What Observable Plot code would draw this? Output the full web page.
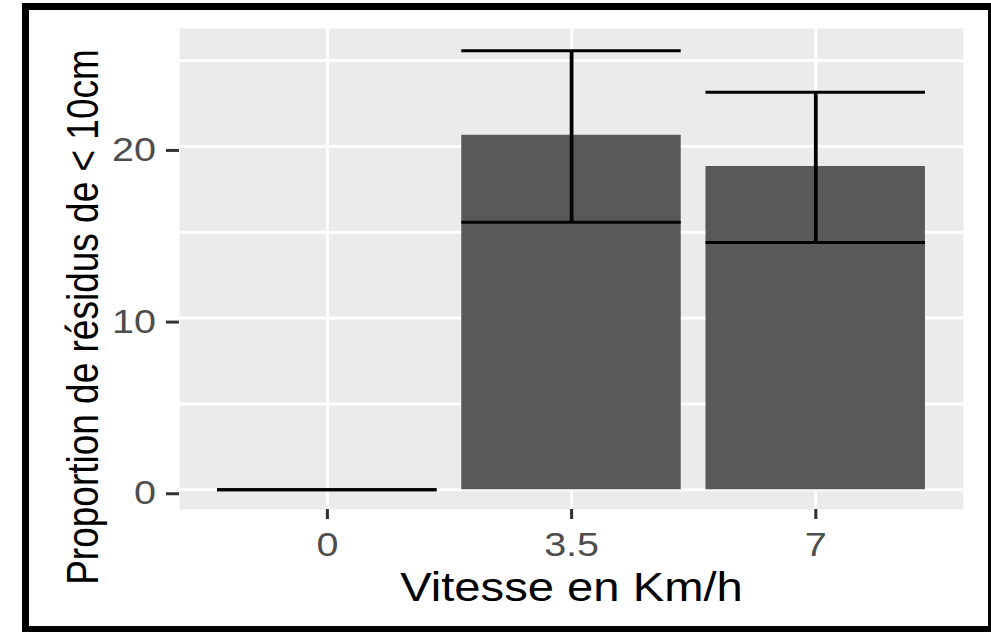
<!DOCTYPE html>
<html>
<head>
<meta charset="utf-8">
<script src="https://cdn.jsdelivr.net/npm/d3@7"></script>
<script src="https://cdn.jsdelivr.net/npm/@observablehq/plot@0.6"></script>
<style>
  html, body { margin: 0; padding: 0; background: #ffffff; }
  #wrap { position: relative; width: 991px; height: 632px; overflow: hidden; }
  #frame { position: absolute; left: 22px; top: 3px; width: 969px; height: 629px;
           box-sizing: border-box; border-style: solid; border-color: #000;
           border-width: 7px 3px 6px 7px; pointer-events: none; }
  svg { font-family: "Liberation Sans", Arial, sans-serif; }
</style>
</head>
<body>
<div id="wrap"><div id="chart"></div><div id="frame"></div></div>
<script>
// ---- data ----
const speeds = ["0", "3.5", "7"];
const means  = [0, 20.65, 18.83];
const lower  = [0, 15.58, 14.41];
const upper  = [0, 25.58, 23.16];
const yMajorTicks = [0, 10, 20];
const yMinorTicks = [5, 15, 25];
const xTitle = "Vitesse en Km/h";
const yTitle = "Proportion de résidus de < 10cm";

const rows = speeds.map((s, i) => ({speed: s, mean: means[i], lo: lower[i], hi: upper[i]}));

// The reference image is stretched horizontally (~1.18x); draw at a narrower
// width and stretch the SVG to 991px.
const W = 840, H = 632;

const chart = Plot.plot({
  width: W,
  height: H,
  marginLeft: 151.7,
  marginRight: 23.9,
  marginTop: 28,
  marginBottom: 123,
  style: {background: "transparent", fontFamily: "Liberation Sans, Arial, sans-serif"},
  x: {type: "band", domain: speeds, paddingInner: 0.1, paddingOuter: 0.15, label: null},
  y: {domain: [-1.15, 26.87], label: null},
  marks: [
    Plot.frame({fill: "#EBEBEB", stroke: null}),
    Plot.gridY(yMinorTicks, {stroke: "#ffffff", strokeOpacity: 1, strokeWidth: 3}),
    Plot.gridY(yMajorTicks, {stroke: "#ffffff", strokeOpacity: 1, strokeWidth: 3}),
    Plot.gridX(speeds, {stroke: "#ffffff", strokeOpacity: 1, strokeWidth: 2.5}),
    Plot.barY(rows, {x: "speed", y: "mean", fill: "#595959"}),
    Plot.ruleX(rows, {x: "speed", y1: "lo", y2: "hi", stroke: "#000000", strokeWidth: 3.2}),
    Plot.tickY(rows, {x: "speed", y: "lo", stroke: "#000000", strokeWidth: 3}),
    Plot.tickY(rows, {x: "speed", y: "hi", stroke: "#000000", strokeWidth: 3}),
    Plot.axisY(yMajorTicks, {tickSize: 11, tickPadding: 9, fontSize: 33.5, dy: 4,
      stroke: "#333333", fill: "#4D4D4D", strokeWidth: 3, label: null}),
    Plot.axisX(speeds, {tickSize: 10, tickPadding: 13, fontSize: 33.5,
      stroke: "#333333", fill: "#4D4D4D", strokeWidth: 2.6, label: null}),
    Plot.text([xTitle], {frameAnchor: "bottom", text: d => d, dy: 91, lineAnchor: "bottom",
      textAnchor: "middle", fontSize: 40, fill: "#000000"}),
    Plot.text([yTitle], {frameAnchor: "left", text: d => d, rotate: -90, dx: -69.5, dy: 48,
      lineAnchor: "bottom", textAnchor: "middle", fontSize: 37, fill: "#000000"})
  ]
});

chart.setAttribute("width", 991);
chart.setAttribute("height", 632);
chart.setAttribute("preserveAspectRatio", "none");
chart.style.width = "991px";
chart.style.height = "632px";
chart.style.maxWidth = "none";
document.getElementById("chart").appendChild(chart);
</script>
</body>
</html>
